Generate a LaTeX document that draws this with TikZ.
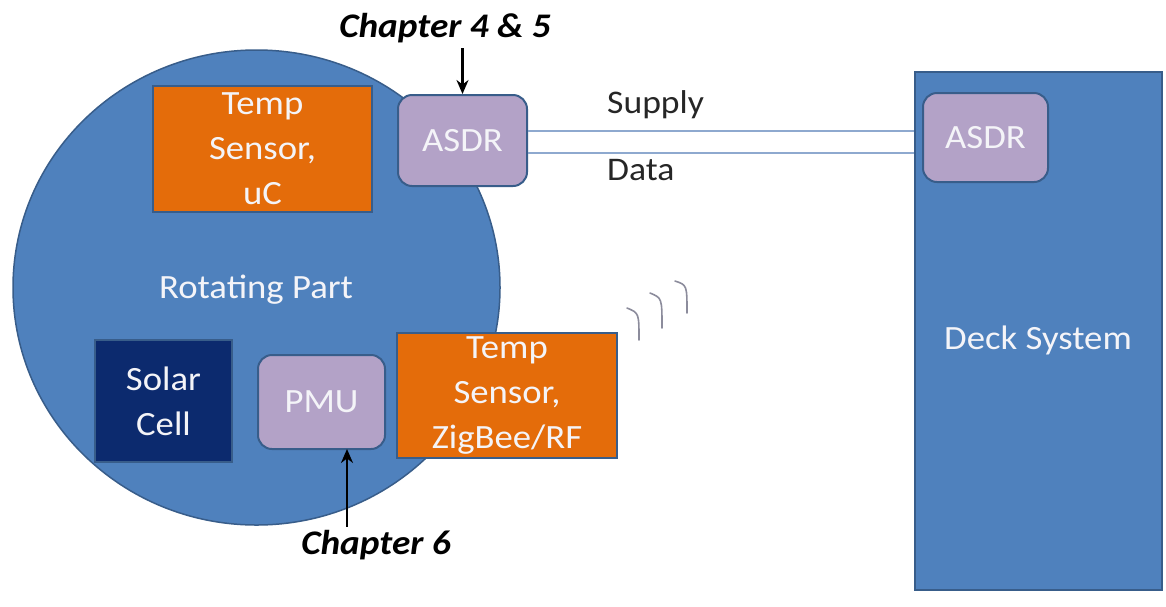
\documentclass[tikz,border=0pt]{standalone}
\usepackage{fontspec}
\setmainfont{Carlito}[FakeStretch=1.08]
\usetikzlibrary{arrows.meta,shapes.geometric}
\definecolor{partblue}{HTML}{4F81BD}
\definecolor{edgeblue}{HTML}{385D8A}
\definecolor{sensororange}{HTML}{E46C0A}
\definecolor{lavender}{HTML}{B3A2C7}
\definecolor{navy}{HTML}{0C2A6E}
\definecolor{linkblue}{HTML}{8EA9CF}
\definecolor{wavegray}{HTML}{8C8C9C}
\definecolor{softwhite}{HTML}{F4F4F8}
\tikzset{
  bigtext/.style={font={\fontsize{34}{45}\selectfont}, text=softwhite, align=center},
  blockbox/.style={draw=edgeblue, line width=1.5pt, inner sep=0pt, bigtext},
  sensorbox/.style={blockbox, fill=sensororange},
  asdrbox/.style={blockbox, fill=lavender, rounded corners=14pt, line width=2pt},
  cellbox/.style={blockbox, fill=navy},
  chaptext/.style={font={\fontsize{34.5}{40}\selectfont\bfseries\itshape}, text=black, inner sep=0pt},
  linklabel/.style={font={\fontsize{33}{40}\selectfont}, text=black!85, inner sep=0pt, anchor=base west},
  link/.style={draw=linkblue, line width=2pt},
  pointer/.style={draw=black, line width=2.2pt, -{Stealth[length=14pt,width=12pt]}},
  wave/.style={draw=wavegray, line width=1.6pt, line cap=round}
}
\begin{document}
\begin{tikzpicture}[x=1pt,y=-1pt]
\useasboundingbox[fill=white] (0,0) rectangle (1166,606);

% rotating part with its components
\node[ellipse, draw=edgeblue, line width=1.5pt, fill=partblue, minimum width=487pt, minimum height=475pt, inner sep=0pt] (rot) at (256.5,287.5) {};
\node[bigtext] (rotlabel) at (256,290) {Rotating Part};
\node[sensorbox, minimum width=219pt, minimum height=126pt] (tsu) at (262.5,149) {Temp\\Sensor,\\uC};
\node[cellbox, minimum width=137pt, minimum height=122pt] (solar) at (163.5,401) {Solar\\Cell};
\node[asdrbox, minimum width=127pt, minimum height=94pt] (pmu) at (321.5,402) {PMU};
\node[sensorbox, minimum width=220pt, minimum height=125pt] (tsz) at (507,395.5) {Temp\\Sensor,\\ZigBee/RF};

% deck side
\node[draw=edgeblue, line width=1.5pt, fill=partblue, minimum width=247pt, minimum height=518pt, inner sep=0pt] (deck) at (1038.5,331) {};
\node[bigtext] (decklabel) at (1038,340) {Deck System};
\node[asdrbox, minimum width=125pt, minimum height=89pt] (asdrr) at (985.5,137.5) {ASDR};

% slip-ring link: supply and data lines
\node[asdrbox, minimum width=129pt, minimum height=91pt] (asdrl) at (462.5,140.5) {ASDR};
\coordinate (supplyy) at (0,131);
\coordinate (datay) at (0,153);
\draw[link] (asdrl.east |- supplyy) -- (deck.west |- supplyy);
\draw[link] (asdrl.east |- datay) -- (deck.west |- datay);
\node[linklabel] (supply) at (607,113) {Supply};
\node[linklabel] (data) at (607,180) {Data};

% radio waves from the wireless sensor
\draw[wave] (627,308) .. controls (639,313) .. (639,340);
\draw[wave] (650,293) .. controls (662,298) .. (662,328);
\draw[wave] (675,281) .. controls (687,285) .. (687,313);

% chapter pointers
\node[chaptext] (ch45) at (445,28) {Chapter 4 \& 5};
\draw[pointer] (ch45.south -| asdrl.north) ++(0,5) -- (asdrl.north);
\node[chaptext] (ch6) at (376,545) {Chapter 6};
\coordinate (pmufoot) at (347,449);
\draw[pointer] (ch6.north -| pmufoot) ++(0,-3) -- (pmufoot);
\end{tikzpicture}
\end{document}
